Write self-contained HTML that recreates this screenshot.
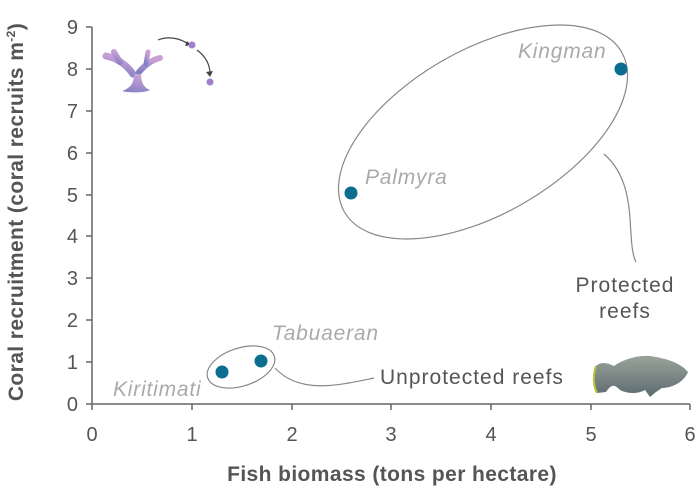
<!DOCTYPE html>
<html><head><style>body{margin:0;background:#fff}svg{display:block}</style></head><body>
<svg width="699" height="492" viewBox="0 0 699 492" font-family="Liberation Sans, sans-serif">
<defs>
<linearGradient id="cg" x1="0" y1="1" x2="0.3" y2="0"><stop offset="0" stop-color="#7f7fc4"/><stop offset="1" stop-color="#c9a0d6"/></linearGradient>
<linearGradient id="fg" x1="0" y1="0" x2="0" y2="1"><stop offset="0" stop-color="#9aa39a"/><stop offset="1" stop-color="#5d6b70"/></linearGradient>
</defs>
<g stroke="#666" stroke-width="1.5" fill="none">
<path d="M92 27V404H690"/>
<path d="M86 27H92M86 69H92M86 111H92M86 153H92M86 195H92M86 236H92M86 278H92M86 320H92M86 362H92M86 404H92"/>
<path d="M92 404v6M192 404v6M292 404v6M391 404v6M491 404v6M591 404v6M690 404v6"/>
</g>
<g font-size="20" fill="#555" text-anchor="end">
<text x="78" y="34">9</text><text x="78" y="76">8</text><text x="78" y="118">7</text><text x="78" y="160">6</text><text x="78" y="202">5</text><text x="78" y="243">4</text><text x="78" y="285">3</text><text x="78" y="327">2</text><text x="78" y="369">1</text><text x="78" y="411">0</text>
</g>
<g font-size="20" fill="#555" text-anchor="middle">
<text x="92" y="441">0</text><text x="192" y="441">1</text><text x="292" y="441">2</text><text x="391" y="441">3</text><text x="491" y="441">4</text><text x="591" y="441">5</text><text x="690" y="441">6</text>
</g>
<text x="392" y="481" font-size="21" font-weight="bold" fill="#555" text-anchor="middle" letter-spacing="0.4">Fish biomass (tons per hectare)</text>
<text transform="translate(23,212) rotate(-90)" font-size="21" font-weight="bold" fill="#555" text-anchor="middle" letter-spacing="0.4">Coral recruitment (coral recruits m<tspan font-size="12" dy="-8">-2</tspan><tspan dy="8">)</tspan></text>
<ellipse cx="483" cy="132" rx="160" ry="82" transform="rotate(-30 483 132)" fill="none" stroke="#888" stroke-width="1.2"/>
<ellipse cx="241" cy="367" rx="35" ry="19" transform="rotate(-18 241 367)" fill="none" stroke="#888" stroke-width="1.2"/>
<path d="M604 154C640 185 625 240 636 262" fill="none" stroke="#888" stroke-width="1.2"/>
<path d="M275 368C300 395 340 385 374 378" fill="none" stroke="#888" stroke-width="1.2"/>
<g fill="#0c6e8e"><circle cx="621" cy="69" r="6.5"/><circle cx="351" cy="193" r="6.5"/><circle cx="261" cy="361" r="6.5"/><circle cx="222" cy="372" r="6.5"/></g>
<g font-size="21" font-style="italic" fill="#aaa" letter-spacing="0.8">
<text x="518" y="58">Kingman</text><text x="365" y="184">Palmyra</text><text x="272" y="340">Tabuaeran</text><text x="113" y="396">Kiritimati</text>
</g>
<g font-size="21" fill="#555" letter-spacing="1">
<text x="625" y="292" text-anchor="middle">Protected</text><text x="625" y="318" text-anchor="middle">reefs</text>
<text x="380" y="384">Unprotected reefs</text>
</g>
<g fill="url(#cg)" stroke="url(#cg)" stroke-linecap="round" fill-opacity="1">
<path d="M137 30L137 80" stroke-width="6" fill="none"/>
<path d="M133 74C126 64 116 58 106 56" stroke-width="7" fill="none"/>
<path d="M120 62L114 52" stroke-width="6" fill="none"/>
<path d="M139 72C146 64 152 60 160 58" stroke-width="6" fill="none"/>
<path d="M146 64L148 52" stroke-width="5" fill="none"/>
<path d="M122 91C130 88 134 84 134 74L141 74C141 84 145 88 150 90C145 93 128 93 122 91Z" stroke="none"/>
</g>
<path d="M158 40C168 36 180 38 188 44M197 50C205 56 210 64 210 74" fill="none" stroke="#444" stroke-width="1.2"/>
<path d="M187 41l4 4-6 1zM206 72l4 5 3-6z" fill="#444"/>
<circle cx="192" cy="45" r="3.5" fill="#a080cc"/><circle cx="210" cy="82" r="3.5" fill="#a080cc"/>
<path d="M596 366C593 375 593 385 597 393L606 392C612 383 615 385 620 390C628 394 638 394 645 390L650 397L656 392L662 388C672 388 684 382 688 372C680 362 664 358 650 356C636 355 622 360 614 366C606 362 600 362 596 366Z" fill="url(#fg)"/>
<path d="M596 366C593 375 593 385 597 393" fill="none" stroke="#b5c23a" stroke-width="2"/>
</svg>
</body></html>
